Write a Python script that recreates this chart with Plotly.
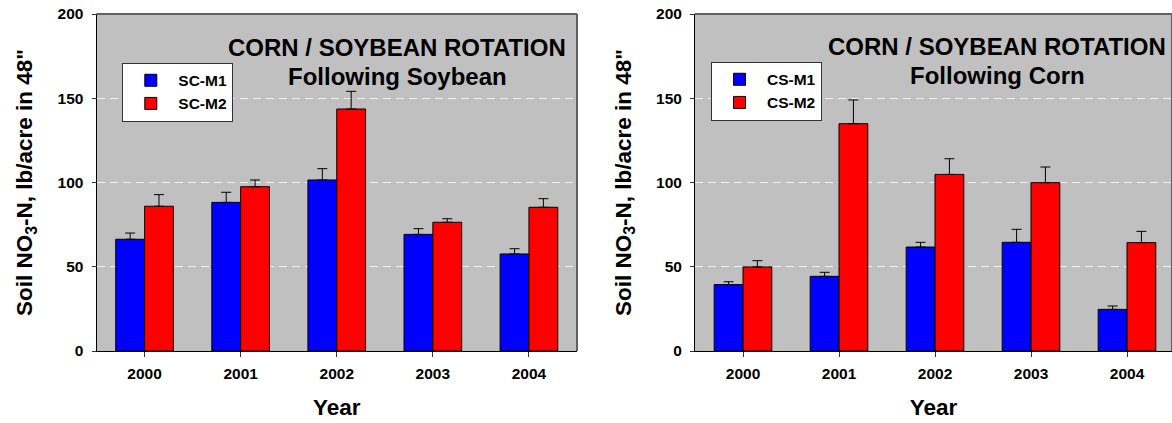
import plotly.graph_objects as go

years = ["2000", "2001", "2002", "2003", "2004"]

sc_m1 = [66.3, 88.2, 101.5, 69.2, 57.6]
sc_m1_err = [3.7, 6.0, 6.7, 3.4, 3.1]
sc_m2 = [85.9, 97.5, 143.6, 76.4, 85.3]
sc_m2_err = [6.9, 4.0, 10.5, 2.1, 5.1]

cs_m1 = [39.4, 44.3, 61.7, 64.5, 24.7]
cs_m1_err = [1.7, 2.4, 2.8, 7.7, 2.0]
cs_m2 = [49.9, 134.9, 104.8, 99.9, 64.3]
cs_m2_err = [3.7, 14.1, 9.3, 9.3, 6.7]

y_ticks = [0, 50, 100, 150, 200]

FONT = "Arial, 'Liberation Sans', sans-serif"
BLUE = "#0000ff"
RED = "#ff0000"
W, H = 1172, 423


def bf(size):
    return dict(family=FONT, size=size, color="black", weight="bold")


def err(vals):
    return dict(type="data", array=vals, arrayminus=[0] * len(vals), symmetric=False,
                color="black", thickness=1, width=5)


fig = go.Figure()

panels = [
    ("x", "y", "legend", [("SC-M1", sc_m1, sc_m1_err, BLUE), ("SC-M2", sc_m2, sc_m2_err, RED)]),
    ("x2", "y2", "legend2", [("CS-M1", cs_m1, cs_m1_err, BLUE), ("CS-M2", cs_m2, cs_m2_err, RED)]),
]
for xa, ya, lg, series in panels:
    for name, vals, e, col in series:
        fig.add_trace(go.Bar(x=years, y=vals, name=name, xaxis=xa, yaxis=ya, legend=lg,
                             marker=dict(color=col, line=dict(color="black", width=1)),
                             error_y=err(e)))

ydom = [1 - 351 / H, 1 - 14 / H]
axis_common = dict(showline=True, linecolor="black", linewidth=1, ticks="outside",
                   tickcolor="#333333", tickfont=bf(15.5), automargin=False)
yaxis_common = dict(axis_common, range=[0, 200], tickvals=y_ticks, ticklen=4,
                    showgrid=True, gridcolor="#f2f2f2", griddash="8px,5px", gridwidth=1,
                    zeroline=False, ticklabelstandoff=5,
                    title=dict(text="Soil NO<sub>3</sub>-N, lb/acre in 48\"",
                               font=bf(22.5), standoff=18))
xaxis_common = dict(axis_common, type="category", ticklen=5, showgrid=False,
                    ticklabelstandoff=3,
                    title=dict(text="Year", font=bf(22.5), standoff=18))

leg_common = dict(xanchor="left", yanchor="top", bgcolor="white", bordercolor="#333333",
                  borderwidth=1, font=bf(15.5), itemwidth=45, tracegroupgap=0)

fig.update_layout(
    width=W, height=H,
    margin=dict(l=0, r=0, t=0, b=0),
    paper_bgcolor="white",
    plot_bgcolor="#c0c0c0",
    barmode="group", bargap=0.4, bargroupgap=0,
    font=dict(family=FONT, color="black"),
    xaxis=dict(xaxis_common, domain=[96.5 / W, 577 / W], range=[-0.5, 4.5], anchor="y"),
    yaxis=dict(yaxis_common, domain=ydom, anchor="x"),
    xaxis2=dict(xaxis_common, domain=[695 / W, 1.0], range=[-0.5, 4.5 - 3 / 96], anchor="y2"),
    yaxis2=dict(yaxis_common, domain=ydom, anchor="x2"),
    legend=dict(leg_common, x=122.3 / W, y=1 - 62.7 / H),
    legend2=dict(leg_common, x=711 / W, y=1 - 61.7 / H),
)

# frame (top and right borders)
for xr, yr in [("x domain", "y domain"), ("x2 domain", "y2 domain")]:
    fig.add_shape(type="line", xref=xr, yref=yr, x0=0, x1=1, y0=1, y1=1,
                  line=dict(color="#606060", width=2))
    fig.add_shape(type="line", xref=xr, yref=yr, x0=1, x1=1, y0=0, y1=1,
                  line=dict(color="#606060", width=2))

titles = [
    (397 / W, 48, "CORN / SOYBEAN ROTATION"),
    (397 / W, 76, "Following Soybean"),
    (997 / W, 46, "CORN / SOYBEAN ROTATION"),
    (997 / W, 75, "Following Corn"),
]
for x, ypix, txt in titles:
    fig.add_annotation(xref="paper", yref="paper", x=x, y=1 - ypix / H, text=txt,
                       showarrow=False, xanchor="center", yanchor="middle", font=bf(24))

fig.write_html("out.html")
